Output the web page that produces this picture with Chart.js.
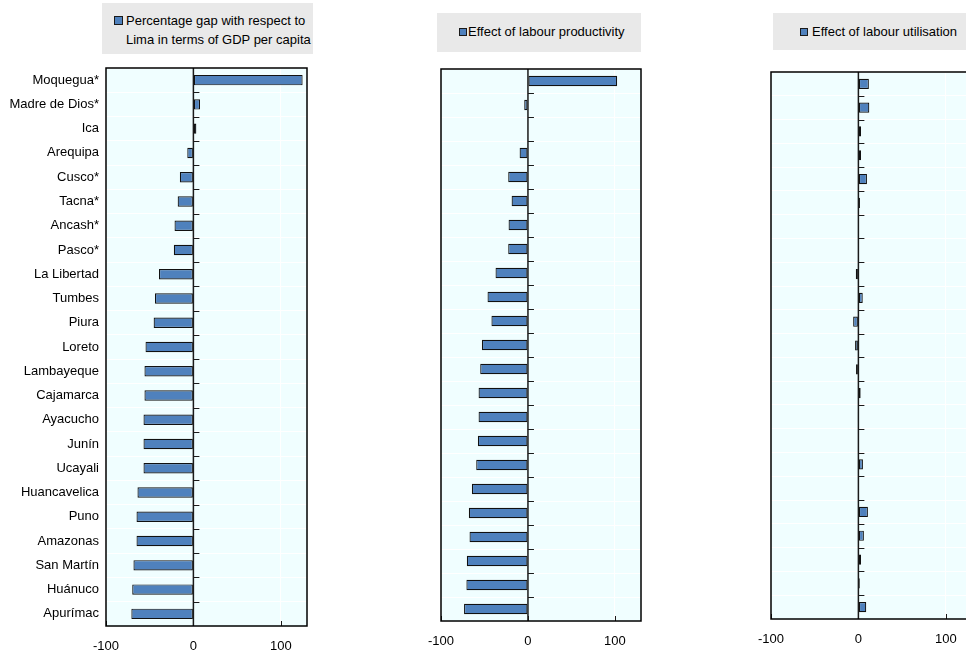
<!DOCTYPE html>
<html>
<head>
<meta charset="utf-8">
<script src="https://cdn.jsdelivr.net/npm/chart.js@4"></script>
<style>
  html, body { margin: 0; padding: 0; background: #fff; overflow: hidden; width: 966px; height: 651px; }
  body { position: relative; font-family: "Liberation Sans", Arial, sans-serif; }
  canvas { position: absolute; }
  .legend { position: absolute; background: #e9e9e9; font-size: 13px; color: #000; box-sizing: border-box; }
  .legend .sq { position: absolute; background: #4f81bd; border: 1px solid #1a1a1a; box-sizing: border-box; }
  .legend .txt { position: absolute; line-height: 19px; white-space: nowrap; }
</style>
</head>
<body>
<div class="legend" style="left:102px; top:3px; width:211px; height:51px;">
  <div class="sq" style="left:12px; top:13px; width:9px; height:9px;"></div>
  <div class="txt" style="left:24px; top:8px;">Percentage gap with respect to<br>Lima in terms of GDP per capita</div>
</div>
<div class="legend" style="left:437px; top:13px; width:204px; height:39px;">
  <div class="sq" style="left:22px; top:15px; width:8px; height:8px;"></div>
  <div class="txt" style="left:31px; top:9px;">Effect of labour productivity</div>
</div>
<div class="legend" style="left:773px; top:13px; width:200px; height:37px;">
  <div class="sq" style="left:27px; top:15px; width:8px; height:8px;"></div>
  <div class="txt" style="left:39px; top:9px;">Effect of labour utilisation</div>
</div>

<canvas id="gapChart" width="320" height="591" style="left:0px; top:60px;"></canvas>
<canvas id="prodChart" width="320" height="591" style="left:330px; top:60px;"></canvas>
<canvas id="utilChart" width="320" height="591" style="left:660px; top:60px;"></canvas>

<script>
const regions = ['Moquegua*', 'Madre de Dios*', 'Ica', 'Arequipa', 'Cusco*', 'Tacna*', 'Ancash*', 'Pasco*',
  'La Libertad', 'Tumbes', 'Piura', 'Loreto', 'Lambayeque', 'Cajamarca', 'Ayacucho', 'Junín', 'Ucayali',
  'Huancavelica', 'Puno', 'Amazonas', 'San Martín', 'Huánuco', 'Apurímac'];

const gdpGap = [125, 7.6, 3.4, -7, -15.5, -18, -21.6, -22.4, -39.4, -44, -45.5, -54.8, -56, -56, -57.1, -57.1,
  -57.1, -64, -65.1, -65.1, -68.6, -70, -71];

const productivityEffect = [102.6, -4.3, -0.5, -9.6, -22.7, -18.8, -22.3, -22.7, -37.3, -46.5, -42, -53, -54.9,
  -56.8, -56.8, -57.6, -59.5, -64.5, -68, -67.2, -70.3, -70.8, -73.5];

const utilisationEffect = [12, 12.5, 3, 3, 9.8, 1.8, 0.5, 0.5, -3, 5, -6, -3.8, -2.7, 2.6, -0.3, 0.5, 5.2,
  0.5, 10.9, 6.3, 3, 1.6, 9];

const xTicks = [-100, 0, 100];
const xMin = -100, xMax = 130;

// background, frame, zero line with its little ticks
const framePlugin = {
  id: 'frame',
  beforeDraw(chart) {
    const { ctx, chartArea: a } = chart;
    ctx.save();
    ctx.fillStyle = '#f0feff';
    ctx.fillRect(a.left, a.top, a.right - a.left, a.bottom - a.top);
    ctx.restore();
  },
  afterDraw(chart) {
    const { ctx, chartArea: a, scales } = chart;
    const x0 = scales.x.getPixelForValue(0);
    const y = scales.y;
    ctx.save();
    ctx.strokeStyle = '#1a1a1a';
    ctx.lineWidth = 1.5;
    ctx.beginPath();
    ctx.moveTo(x0, a.top);
    ctx.lineTo(x0, a.bottom);
    ctx.stroke();
    ctx.lineWidth = 1;
    ctx.beginPath();
    for (let i = 1; i < regions.length; i++) {
      const yy = Math.round((y.getPixelForTick(i - 1) + y.getPixelForTick(i)) / 2) + 0.5;
      ctx.moveTo(x0, yy);
      ctx.lineTo(x0 + 6, yy);
    }
    xTicks.forEach(v => {
      const xx = Math.round(scales.x.getPixelForValue(v)) + 0.5;
      ctx.moveTo(xx, a.bottom);
      ctx.lineTo(xx, a.bottom - 5);
    });
    ctx.stroke();
    ctx.lineWidth = 1.5;
    ctx.strokeStyle = '#000';
    ctx.strokeRect(a.left, a.top, a.right - a.left, a.bottom - a.top);
    ctx.restore();
  }
};

function makeChart(id, label, values, opts) {
  return new Chart(document.getElementById(id), {
    type: 'bar',
    data: {
      labels: regions,
      datasets: [{
        label: label,
        data: values,
        backgroundColor: '#4f81bd',
        borderColor: '#111',
        borderWidth: 1.2,
        borderSkipped: false,
        inflateAmount: 0,
        categoryPercentage: 1,
        barPercentage: 0.43
      }]
    },
    options: {
      indexAxis: 'y',
      responsive: false,
      animation: false,
      devicePixelRatio: 1,
      layout: { padding: { left: 0, top: opts.top, right: opts.right, bottom: 0 } },
      plugins: { legend: { display: false }, tooltip: { enabled: false } },
      scales: {
        x: {
          min: xMin,
          max: xMax,
          afterBuildTicks: s => { s.ticks = xTicks.map(v => ({ value: v })); },
          afterFit: s => { s.height = opts.xHeight; s.paddingLeft = 0; s.paddingRight = 0; },
          border: { display: false },
          grid: {
            drawTicks: false,
            color: c => (c.tick && c.tick.value === 100) ? '#ffffff' : 'rgba(0,0,0,0)'
          },
          ticks: {
            color: '#000',
            padding: 13,
            font: { family: 'Liberation Sans', size: 13 }
          }
        },
        y: {
          afterFit: s => { s.width = opts.yWidth; s.paddingTop = 0; s.paddingBottom = 0; },
          border: { display: false },
          grid: { offset: true, drawTicks: false, color: '#ffffff', lineWidth: 1 },
          ticks: {
            display: opts.showLabels,
            color: '#000',
            padding: 7,
            font: { family: 'Liberation Sans', size: 13 }
          }
        }
      }
    },
    plugins: [framePlugin]
  });
}

makeChart('gapChart', 'Percentage gap with respect to Lima in terms of GDP per capita', gdpGap,
  { top: 8, right: 13, xHeight: 25, yWidth: 106, showLabels: true });
makeChart('prodChart', 'Effect of labour productivity', productivityEffect,
  { top: 9, right: 9, xHeight: 30, yWidth: 111, showLabels: false });
makeChart('utilChart', 'Effect of labour utilisation', utilisationEffect,
  { top: 12, right: 8, xHeight: 32, yWidth: 111, showLabels: false });
</script>
</body>
</html>
